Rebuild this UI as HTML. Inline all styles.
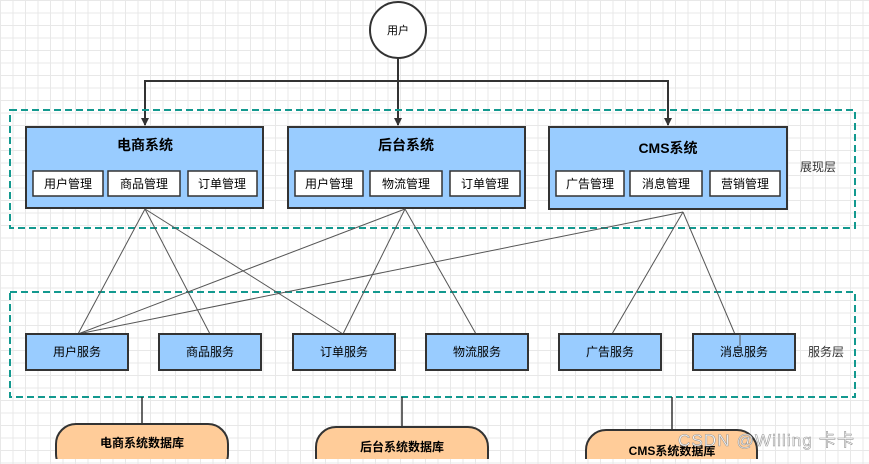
<!DOCTYPE html>
<html><head><meta charset="utf-8"><style>
body{margin:0;width:869px;height:459px;overflow:hidden;background:#fff;
background-image:linear-gradient(#e8e8e8 1px,transparent 1px),linear-gradient(90deg,#e8e8e8 1px,transparent 1px);background-size:12.5px 12.5px;}
text{font-family:"Liberation Sans","Noto Sans CJK SC",sans-serif;}
</style></head><body>
<svg width="869" height="459" viewBox="0 0 869 459" xmlns="http://www.w3.org/2000/svg">
<defs><marker id="a" markerWidth="8" markerHeight="8" refX="7" refY="4" orient="auto" markerUnits="userSpaceOnUse"><path d="M0,0 L8,4 L0,8 Z" fill="#333"/></marker></defs>
<circle cx="398" cy="30" r="28" fill="#fff" stroke="#333" stroke-width="2"/>
<text x="398" y="34" font-size="11" text-anchor="middle">用户</text>
<g stroke="#333" stroke-width="2" fill="none">
<line x1="398" y1="58" x2="398" y2="125" marker-end="url(#a)"/>
<polyline points="145,125 145,81 668,81 668,125" marker-end="url(#a)"/>
</g>
<path d="M145,81 L145,125" stroke="#333" stroke-width="2" marker-end="url(#a)"/>
<rect x="10" y="110" width="845" height="118" fill="none" stroke="#13998f" stroke-width="2" stroke-dasharray="7,4"/>
<rect x="10" y="292" width="845" height="105" fill="none" stroke="#13998f" stroke-width="2" stroke-dasharray="7,4"/>
<g fill="#99ccff" stroke="#333" stroke-width="2">
<rect x="26" y="127" width="237" height="81"/>
<rect x="288" y="127" width="237" height="81"/>
<rect x="549" y="127" width="238" height="82"/>
</g>
<g font-size="14" font-weight="bold" text-anchor="middle">
<text x="145" y="150">电商系统</text><text x="406" y="150">后台系统</text><text x="668" y="153">CMS系统</text>
</g>
<g fill="#fff" stroke="#333" stroke-width="1.5">
<rect x="33" y="171" width="70" height="25"/><rect x="108" y="171" width="72" height="25"/><rect x="188" y="171" width="69" height="25"/>
<rect x="295" y="171" width="68" height="25"/><rect x="370" y="171" width="72" height="25"/><rect x="450" y="171" width="70" height="25"/>
<rect x="556" y="171" width="68" height="25"/><rect x="630" y="171" width="72" height="25"/><rect x="710" y="171" width="70" height="25"/>
</g>
<g font-size="12" text-anchor="middle">
<text x="68" y="188">用户管理</text><text x="144" y="188">商品管理</text><text x="222" y="188">订单管理</text>
<text x="329" y="188">用户管理</text><text x="406" y="188">物流管理</text><text x="485" y="188">订单管理</text>
<text x="590" y="188">广告管理</text><text x="666" y="188">消息管理</text><text x="745" y="188">营销管理</text>
</g>
<text x="800" y="171" font-size="12" fill="#333">展现层</text>
<g stroke="#555" stroke-width="1">
<line x1="145" y1="209" x2="78" y2="334"/><line x1="145" y1="209" x2="210" y2="334"/><line x1="145" y1="209" x2="343" y2="334"/>
<line x1="405" y1="209" x2="78" y2="334"/><line x1="405" y1="209" x2="343" y2="334"/><line x1="405" y1="209" x2="476" y2="334"/>
<line x1="683" y1="212" x2="78" y2="334"/><line x1="683" y1="212" x2="612" y2="334"/><line x1="683" y1="212" x2="740" y2="346"/>
</g>
<g fill="#99ccff" stroke="#333" stroke-width="2">
<rect x="26" y="334" width="102" height="36"/><rect x="159" y="334" width="102" height="36"/><rect x="293" y="334" width="102" height="36"/>
<rect x="426" y="334" width="102" height="36"/><rect x="559" y="334" width="102" height="36"/><rect x="693" y="334" width="102" height="36"/>
</g>
<line x1="740" y1="334" x2="740" y2="346" stroke="#555"/>
<g font-size="12" text-anchor="middle">
<text x="77" y="356">用户服务</text><text x="210" y="356">商品服务</text><text x="344" y="356">订单服务</text>
<text x="477" y="356">物流服务</text><text x="610" y="356">广告服务</text><text x="744" y="356">消息服务</text>
</g>
<text x="808" y="356" font-size="12" fill="#333">服务层</text>
<g stroke="#333" stroke-width="1.5">
<line x1="142" y1="397" x2="142" y2="424"/><line x1="402" y1="397" x2="402" y2="427"/><line x1="672" y1="397" x2="672" y2="430"/>
</g>
<g fill="#ffcc99" stroke="#333" stroke-width="2">
<rect x="56" y="424" width="172" height="50" rx="20"/>
<rect x="316" y="427" width="172" height="50" rx="20"/>
<rect x="586" y="430" width="171" height="50" rx="20"/>
</g>
<g font-size="12" font-weight="bold" text-anchor="middle">
<text x="142" y="447">电商系统数据库</text><text x="402" y="451">后台系统数据库</text><text x="672" y="455">CMS系统数据库</text>
</g>
<text x="678" y="446" font-size="17" fill="#fff" stroke="#999" stroke-width="0.6" textLength="176">CSDN @Willing 卡卡</text>
</svg>
</body></html>
